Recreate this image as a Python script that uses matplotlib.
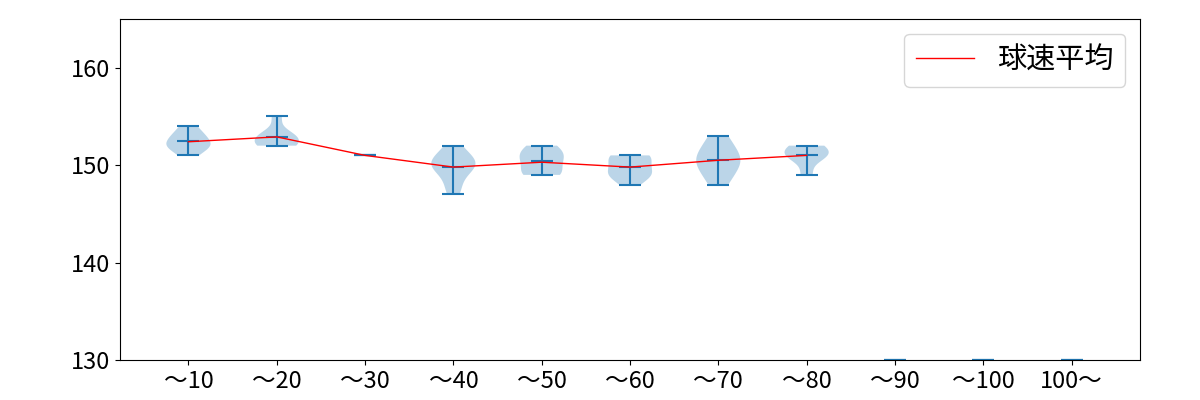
import numpy
import matplotlib
matplotlib.use("Agg")
import matplotlib.pyplot as plt

plt.rcParams['font.family'] = ['Noto Sans CJK JP', 'DejaVu Sans']

labels = ["～10", "～20", "～30", "～40", "～50", "～60", "～70", "～80", "～90", "～100", "100～"]

# 球速データ (各区間)
speed_1 = [151, 152, 152, 152, 153, 153, 154]
speed_2 = [152, 152, 152, 153, 153, 153, 155]
speed_3 = [151]
speed_4 = [147, 148, 149, 150, 150, 150, 150, 151, 151, 152]
speed_5 = [149, 149, 149, 150, 150, 151, 151, 151, 152, 152]
speed_6 = [148, 149, 149, 149, 150, 150, 151, 151, 151]
speed_7 = [148, 149, 150, 150, 151, 151, 152, 153]
speed_8 = [149, 151, 151, 151, 152, 152]
speed_9 = [130]
speed_10 = [130]
speed_11 = [130]

mean_speed = [152.4, 152.9, 151.0, 149.8, 150.3, 149.8, 150.5, 151.0]


def plot_speed():
    data = [speed_1, speed_2, speed_3, speed_4, speed_5, speed_6,
            speed_7, speed_8, speed_9, speed_10, speed_11]
    positions = numpy.arange(1, len(data) + 1)
    fig = plt.figure(figsize=(12, 4), dpi=100)
    ax = fig.add_subplot(111)
    fig.subplots_adjust(left=0.1, right=0.95, bottom=0.1, top=0.9525)
    ax.violinplot(data, positions=positions, showmeans=True)
    ax.plot(positions[:len(mean_speed)], mean_speed, color='red', linewidth=1, label='球速平均')
    ax.set_xticks(positions)
    ax.set_xticklabels(labels, fontsize=17)
    ax.tick_params(axis='y', labelsize=17)
    ax.set_ylim(130, 165)
    ax.set_yticks([130, 140, 150, 160])
    ax.legend(loc='upper right', fontsize=21)
    fig.savefig('out.png')


if __name__ == "__main__":
    plot_speed()
